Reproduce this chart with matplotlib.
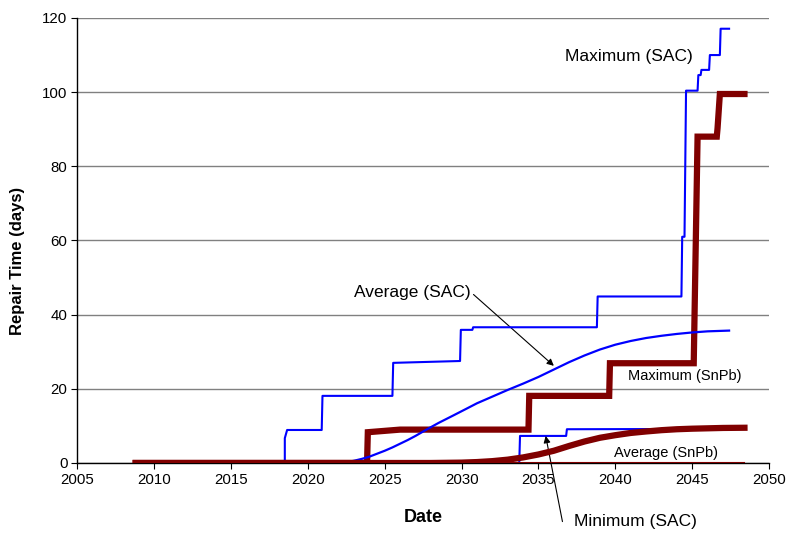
import matplotlib
matplotlib.use("Agg")
import matplotlib.pyplot as plt

plt.rcParams['font.family'] = ['Liberation Sans', 'DejaVu Sans']

# ---- data ----
max_sac_x = [2008.8, 2018.5, 2018.5, 2018.65, 2020.9, 2020.95, 2025.5, 2025.55, 2029.9, 2029.95,
             2030.7, 2030.75, 2038.8, 2038.85, 2044.3, 2044.35, 2044.5, 2044.6, 2045.35, 2045.4,
             2045.55, 2045.6, 2046.1, 2046.15, 2046.8, 2046.85, 2047.4]
max_sac_y = [0, 0, 6.7, 8.9, 8.9, 18.1, 18.1, 27.0, 27.5, 35.9,
             35.9, 36.6, 36.6, 44.9, 44.9, 61.0, 61.0, 100.4, 100.4, 104.6,
             104.6, 106.0, 106.0, 110.0, 110.0, 117.1, 117.1]

avg_sac_x = [2008.8, 2022.0, 2022.5, 2023.0, 2023.5, 2024.0, 2024.5, 2025.0, 2025.5, 2026.0,
             2026.5, 2027.0, 2027.8, 2028.5, 2029.5, 2030.3, 2031.0, 2032.0, 2033.0, 2034.0,
             2035.0, 2036.0, 2037.0, 2038.0, 2039.0, 2040.0, 2041.0, 2042.0, 2043.0, 2044.0,
             2045.0, 2046.0, 2047.4]
avg_sac_y = [0, 0, 0.2, 0.6, 1.1, 1.7, 2.5, 3.3, 4.2, 5.2,
             6.2, 7.3, 9.2, 10.8, 12.9, 14.6, 16.1, 17.9, 19.7, 21.4,
             23.2, 25.2, 27.2, 29.0, 30.6, 31.9, 32.9, 33.7, 34.3, 34.8,
             35.2, 35.5, 35.7]

min_sac_x = [2008.8, 2033.75, 2033.8, 2036.8, 2036.85, 2047.4]
min_sac_y = [0, 0, 7.3, 7.3, 9.1, 9.2]

max_snpb_x = [2008.8, 2023.85, 2023.9, 2026.0, 2034.35, 2034.4, 2039.6, 2039.65, 2045.1, 2045.35,
              2046.6, 2046.65, 2046.8, 2048.4]
max_snpb_y = [0, 0, 8.3, 9.0, 9.0, 18.1, 18.1, 26.9, 26.9, 88.0,
              88.0, 90.3, 99.5, 99.5]

avg_snpb_x = [2008.8, 2028.0, 2030.0, 2031.0, 2032.0, 2033.0, 2034.0, 2035.0, 2036.0, 2037.0,
              2038.0, 2039.0, 2040.0, 2041.0, 2042.0, 2043.0, 2044.0, 2045.0, 2046.0, 2047.0,
              2048.4]
avg_snpb_y = [0, 0, 0.1, 0.25, 0.5, 0.9, 1.5, 2.3, 3.3, 4.6,
              5.8, 6.8, 7.5, 8.1, 8.5, 8.85, 9.1, 9.25, 9.35, 9.45,
              9.5]

min_snpb_x = [2008.8, 2048.4]
min_snpb_y = [0, 0]

x_ticks = [2005, 2010, 2015, 2020, 2025, 2030, 2035, 2040, 2045, 2050]
y_ticks = [0, 20, 40, 60, 80, 100, 120]

BLUE = '#0000FF'
RED = '#800000'

fig = plt.figure(figsize=(7.87, 5.35), dpi=100)
ax = fig.add_axes([0.0982, 0.1346, 0.879, 0.8318])

ax.plot(min_sac_x, min_sac_y, color=BLUE, lw=1.5, zorder=2)
ax.plot(max_snpb_x, max_snpb_y, color=RED, lw=4.5, zorder=3, solid_joinstyle='miter')
ax.plot(avg_sac_x, avg_sac_y, color=BLUE, lw=1.6, zorder=4)
ax.plot(max_sac_x, max_sac_y, color=BLUE, lw=1.5, zorder=4)
ax.plot(avg_snpb_x, avg_snpb_y, color=RED, lw=4.5, zorder=5)
ax.plot(min_snpb_x, min_snpb_y, color=RED, lw=1.5, zorder=5)

ax.set_xlim(2005, 2050)
ax.set_ylim(0, 120)
ax.set_xticks(x_ticks)
ax.set_yticks(y_ticks)
ax.tick_params(axis='both', direction='out', length=4, width=0.8, labelsize=10.8, pad=3)
for s in ['top', 'right']:
    ax.spines[s].set_visible(False)
for s in ['left', 'bottom']:
    ax.spines[s].set_color('black')
    ax.spines[s].set_linewidth(1.0)
    ax.spines[s].set_zorder(1)

ax.yaxis.grid(True, color='#808080', lw=1.0, zorder=0)
ax.set_axisbelow(True)

ax.set_xlabel('Date', fontsize=13, fontweight='bold', labelpad=16)
ax.set_ylabel('Repair Time (days)', fontsize=12, fontweight='bold')
ax.yaxis.set_label_coords(-0.075, 0.455)

ax.text(2040.9, 109.5, 'Maximum (SAC)', fontsize=12.5, ha='center', va='center')
ax.text(2044.5, 23.4, 'Maximum (SnPb)', fontsize=10.5, ha='center', va='center')
ax.text(2043.3, 2.8, 'Average (SnPb)', fontsize=10.5, ha='center', va='center')

ax.annotate('Average (SAC)', xy=(2036.0, 26.2), xytext=(2026.8, 46.1),
            fontsize=12.5, ha='center', va='center',
            arrowprops=dict(arrowstyle='-|>', color='black', lw=0.8, mutation_scale=10,
                            shrinkA=0, shrinkB=0, relpos=(1.0, 0.5)))

ax.annotate('', xy=(2035.47, 7.3), xytext=(2036.56, -15.8), annotation_clip=False,
            arrowprops=dict(arrowstyle='-|>', color='black', lw=0.8, mutation_scale=10,
                            shrinkA=0, shrinkB=0))
ax.text(2041.3, -15.9, 'Minimum (SAC)', fontsize=12.5, ha='center', va='center', clip_on=False)

fig.savefig('out.png', dpi=100)
